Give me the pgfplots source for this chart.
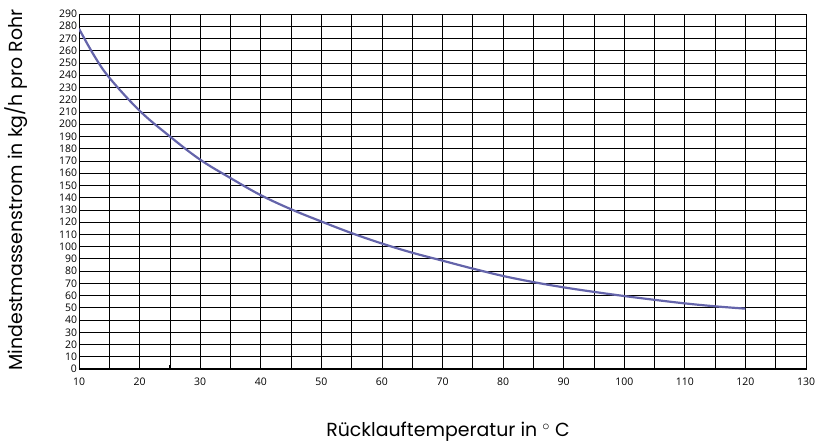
\documentclass[border=0pt]{standalone}
\usepackage{fontspec}
\setmainfont{Open Sans}
\newfontfamily\labelfont{Poppins}
\usepackage{pgfplots}
\pgfplotsset{compat=1.18}
\definecolor{curve}{RGB}{100,100,170}
\begin{document}
\begin{tikzpicture}
\begin{axis}[
  scale only axis, width=727bp, height=355bp,
  xmin=10, xmax=130, ymin=0, ymax=290,
  xtick={10,20,...,130}, minor xtick={15,25,...,125},
  ytick={0,10,...,290},
  grid=both,
  major grid style={black, line width=0.7pt},
  minor grid style={black, line width=0.7pt},
  axis line style={black, line width=0.8pt},
  xtick pos=bottom, ytick pos=left,
  ytick style={draw=none},
  xtick style={black, line width=0.8pt},
  major tick length=4bp, minor tick length=4bp,
  xtick align=inside,
  tick label style={font=\fontsize{10.5}{11}\selectfont},
  /pgf/number format/assume math mode=true,
  xticklabel style={yshift=-5bp},
  yticklabel style={xshift=1.5bp},
]
\addplot[curve, line width=2.2pt, smooth, tension=0.6] coordinates {
(10,278) (12.5,256) (15,238) (20,211) (25,190) (30,171) (35,156) (40,142) (45,130.5)
(50,120.5) (55,111) (60,102.5) (65,95) (70,88.5) (75,82) (80,76) (85,71)
(90,66.7) (95,63) (100,59.6) (105,56.5) (110,53.6) (115,51.2) (120,49.3)
};
\draw[black, line width=1.6pt] (rel axis cs:0,0) -- (rel axis cs:1,0);
\end{axis}
\node[font=\labelfont\fontsize{19}{22}\selectfont] at (369bp,-63bp) {Rücklauftemperatur in $^{\circ}$ C};
\node[font=\labelfont\fontsize{19}{22}\selectfont, rotate=90] at (-63bp,179bp) {Mindestmassenstrom in kg/h pro Rohr};
\pgfresetboundingbox
\useasboundingbox (-79bp,-79bp) rectangle (739bp,369bp);
\end{tikzpicture}
\end{document}
